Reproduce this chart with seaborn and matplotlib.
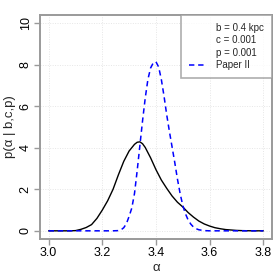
import numpy as np
import pandas as pd
import seaborn as sns
import matplotlib.pyplot as plt
from matplotlib.lines import Line2D

# values
alpha_black = [3.00, 3.02, 3.04, 3.06, 3.08, 3.10, 3.12, 3.14, 3.16, 3.18,
               3.20, 3.22, 3.24, 3.26, 3.28, 3.30, 3.32, 3.33, 3.34, 3.35,
               3.36, 3.38, 3.40, 3.42, 3.44, 3.46, 3.48, 3.50, 3.52, 3.54,
               3.56, 3.58, 3.60, 3.62, 3.64, 3.66, 3.68, 3.70, 3.72, 3.74,
               3.76, 3.78, 3.80]
dens_black = [0.0, 0.0, 0.0, 0.0, 0.0, 0.01, 0.07, 0.16, 0.30, 0.60,
              1.00, 1.45, 2.00, 2.70, 3.35, 3.85, 4.17, 4.27, 4.29, 4.20,
              4.02, 3.52, 2.95, 2.45, 2.05, 1.68, 1.38, 1.15, 0.88, 0.66,
              0.47, 0.33, 0.23, 0.15, 0.10, 0.06, 0.04, 0.02, 0.01, 0.005,
              0.0, 0.0, 0.0]

alpha_blue = [3.00, 3.05, 3.10, 3.15, 3.20, 3.24, 3.26, 3.27, 3.28, 3.29,
              3.30, 3.31, 3.32, 3.33, 3.34, 3.35, 3.36, 3.37, 3.38, 3.39,
              3.40, 3.41, 3.42, 3.43, 3.44, 3.45, 3.46, 3.47, 3.48, 3.49,
              3.50, 3.51, 3.52, 3.53, 3.54, 3.55, 3.56, 3.57, 3.58, 3.60,
              3.65, 3.70, 3.75, 3.80]
dens_blue = [0.0, 0.0, 0.0, 0.0, 0.0, 0.0, 0.01, 0.05, 0.15, 0.35,
             0.70, 1.10, 1.80, 2.90, 4.10, 5.30, 6.40, 7.30, 7.85, 8.10,
             8.15, 7.90, 7.30, 6.50, 5.60, 4.80, 4.05, 3.30, 2.50, 1.80,
             1.22, 0.82, 0.52, 0.32, 0.18, 0.10, 0.05, 0.03, 0.01, 0.0,
             0.0, 0.0, 0.0, 0.0]

x_ticks = [3.0, 3.2, 3.4, 3.6, 3.8]
y_ticks = [0, 2, 4, 6, 8, 10]
legend_labels = ["b = 0.4 kpc", "c = 0.001", "p = 0.001", "Paper II"]

sns.set_theme(style="ticks")
plt.rcParams["font.family"] = ["Liberation Sans", "DejaVu Sans"]

fig = plt.figure(figsize=(2.8, 2.8), dpi=100)
ax = fig.add_axes([0.143, 0.146, 0.828, 0.800])

gray = "#9a9a9a"
dash = (0, (3.5, 2.5))

sns.lineplot(x=alpha_black, y=dens_black, color="black", linewidth=1.0, ax=ax)
sns.lineplot(x=alpha_blue, y=dens_blue, color="blue", linewidth=1.1, ax=ax,
             linestyle=dash)

ax.set_xlim(2.968, 3.832)
ax.set_ylim(-0.4, 10.4)
ax.set_xticks(x_ticks)
ax.set_xticklabels([f"{v:.1f}" for v in x_ticks])
ax.set_yticks(y_ticks)
ax.set_yticklabels([str(v) for v in y_ticks], rotation=90, va="center")

ax.grid(True, color="#e6e6e6", linestyle=(0, (1, 1.5)), linewidth=0.7)
ax.set_axisbelow(True)
for s in ax.spines.values():
    s.set_visible(True)
    s.set_color(gray)
    s.set_linewidth(1.4)
ax.tick_params(axis="both", colors=gray, length=4, width=1.0,
               labelsize=9, labelcolor="black", pad=2)

ax.set_xlabel("α", fontsize=9.5, labelpad=2)
ax.set_ylabel("p(α | b,c,p)", fontsize=9.5, labelpad=3)

blank = Line2D([], [], color="none")
handles = [blank, blank, blank,
           Line2D([], [], color="blue", linewidth=1.1, linestyle=dash)]
leg = ax.legend(handles, legend_labels, loc="upper right",
                bbox_to_anchor=(1.0, 1.0), fontsize=7, frameon=True,
                fancybox=False, borderaxespad=0, handlelength=1.6,
                handletextpad=1.2, labelspacing=0.25, borderpad=0.8)
leg.get_frame().set_edgecolor(gray)
leg.get_frame().set_linewidth(1.2)

fig.savefig("out.png", dpi=100)
